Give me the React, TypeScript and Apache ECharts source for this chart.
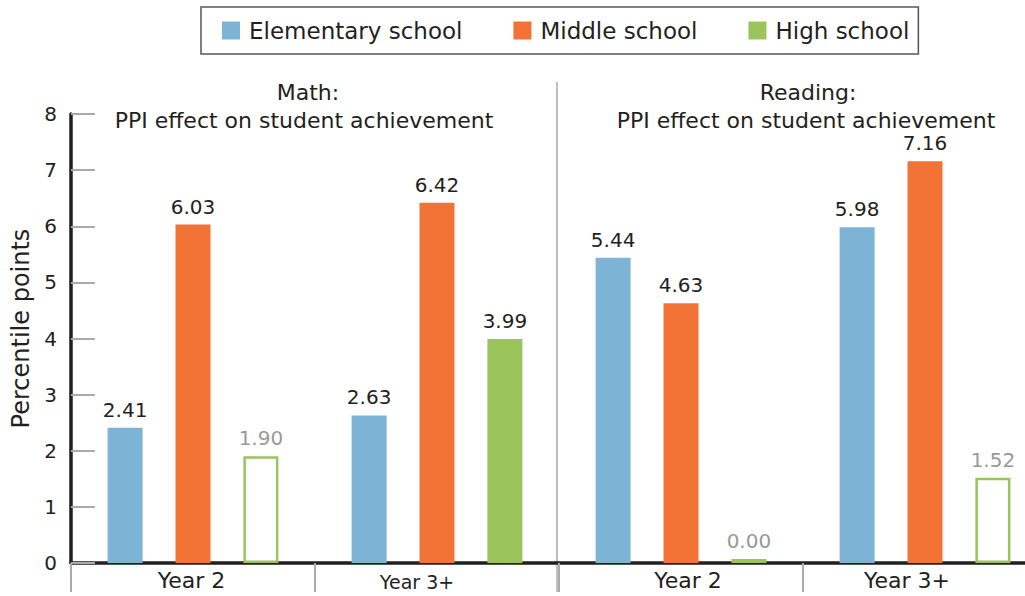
import React, { useEffect, useRef } from "react";
import * as echarts from "echarts";

const categories = ["Year 2", "Year 3+", "Year 2", "Year 3+"];
const seriesNames = ["Elementary school", "Middle school", "High school"];
const elementary = [2.41, 2.63, 5.44, 5.98];
const middle = [6.03, 6.42, 4.63, 7.16];
const high = [1.9, 3.99, 0.0, 1.52];
const highSignificant = [false, true, false, false];
const yTicks = [0, 1, 2, 3, 4, 5, 6, 7, 8];

const BLUE = "#7db4d6";
const ORANGE = "#f37236";
const GREEN = "#9bc45c";
const DARK = "#231f20";
const GREY_LABEL = "#999999";
const FONT = "DejaVu Sans";

export default function App() {
  const ref = useRef<HTMLDivElement>(null);
  useEffect(() => {
    if (!ref.current) return;
    const chart = echarts.init(ref.current, null, { renderer: "svg" });
    const labelStyle = {
      show: true,
      position: "top",
      distance: 8,
      fontSize: 20,
      fontFamily: FONT,
      color: DARK,
      formatter: (p: any) => Number(p.value).toFixed(2),
    };
    const option = {
      animation: false,
      backgroundColor: "#ffffff",
      textStyle: { fontFamily: FONT },
      legend: {
        left: 201,
        top: 7,
        data: seriesNames,
        itemWidth: 18,
        itemHeight: 18,
        itemGap: 51,
        icon: "rect",
        borderColor: "#555",
        borderWidth: 1.5,
        borderRadius: 0,
        padding: [12, 9, 12, 21],
        textStyle: { fontSize: 23, color: DARK, fontFamily: FONT, padding: [0, 0, 0, 4] },
      },
      grid: { left: 71, width: 976, top: 114, bottom: 33, containLabel: false, outerBoundsMode: "none" },
      xAxis: {
        type: "category",
        data: categories,
        axisLine: { show: true, lineStyle: { color: DARK, width: 3.5 } },
        axisTick: { show: true, length: 29, lineStyle: { color: "#aaaaaa", width: 2 } },
        axisLabel: {
          margin: 6,
          fontSize: 22,
          color: DARK,
          fontFamily: FONT,
          formatter: (v: string, i: number) => "{c" + i + "|" + v + "}",
          rich: {
            c0: { fontSize: 22, color: DARK, fontFamily: FONT, padding: [0, 3, 0, 0] },
            c1: { fontSize: 19, color: DARK, fontFamily: FONT, padding: [3, 40, 0, 0] },
            c2: { fontSize: 22, color: DARK, fontFamily: FONT, padding: [0, 0, 0, 14] },
            c3: { fontSize: 22, color: DARK, fontFamily: FONT, padding: [0, 36, 0, 0] },
          },
        },
      },
      yAxis: {
        type: "value",
        min: yTicks[0],
        max: yTicks[yTicks.length - 1],
        interval: 1,
        name: "Percentile points",
        nameLocation: "middle",
        nameGap: 38,
        nameTextStyle: { fontSize: 24, color: DARK, fontFamily: FONT, padding: [0, 0, 0, 20] },
        axisLine: { show: true, lineStyle: { color: DARK, width: 3.5 } },
        axisTick: { show: true, inside: true, length: 24, lineStyle: { color: "#aaaaaa", width: 2 } },
        splitLine: { show: false },
        axisLabel: { fontSize: 20, color: DARK, fontFamily: FONT, margin: 14 },
      },
      series: [
        {
          name: seriesNames[0],
          type: "bar",
          data: elementary,
          barWidth: 35,
          barGap: "94%",
          itemStyle: { color: BLUE },
          label: labelStyle,
        },
        {
          name: seriesNames[1],
          type: "bar",
          data: middle,
          barWidth: 35,
          barGap: "94%",
          itemStyle: { color: ORANGE },
          label: labelStyle,
        },
        {
          name: seriesNames[2],
          type: "bar",
          barWidth: 35,
          barGap: "94%",
          barMinHeight: 4,
          itemStyle: { color: GREEN },
          label: labelStyle,
          data: high.map((v, i) =>
            highSignificant[i]
              ? { value: v }
              : {
                  value: v,
                  itemStyle: { color: "#ffffff", borderColor: GREEN, borderWidth: 2.5 },
                  label: { color: GREY_LABEL },
                }
          ),
        },
      ],
      graphic: [
        {
          type: "line",
          shape: { x1: 557, y1: 82, x2: 557, y2: 592 },
          style: { stroke: "#aaaaaa", lineWidth: 1.5 },
          z: 0,
        },
        {
          type: "text",
          x: 308,
          y: 92,
          style: { text: "Math:", fontSize: 22, fill: DARK, fontFamily: FONT, align: "center", verticalAlign: "middle" },
        },
        {
          type: "text",
          x: 304,
          y: 120,
          style: { text: "PPI effect on student achievement", fontSize: 22, fill: DARK, fontFamily: FONT, align: "center", verticalAlign: "middle" },
        },
        {
          type: "text",
          x: 808,
          y: 92,
          style: { text: "Reading:", fontSize: 22, fill: DARK, fontFamily: FONT, align: "center", verticalAlign: "middle" },
        },
        {
          type: "text",
          x: 806,
          y: 120,
          style: { text: "PPI effect on student achievement", fontSize: 22, fill: DARK, fontFamily: FONT, align: "center", verticalAlign: "middle" },
        },
      ],
    };
    chart.setOption(option as any);
    return () => chart.dispose();
  }, []);
  return <div ref={ref} style={{ width: 1025, height: 596, position: "absolute", left: 0, top: 0 }} />;
}
